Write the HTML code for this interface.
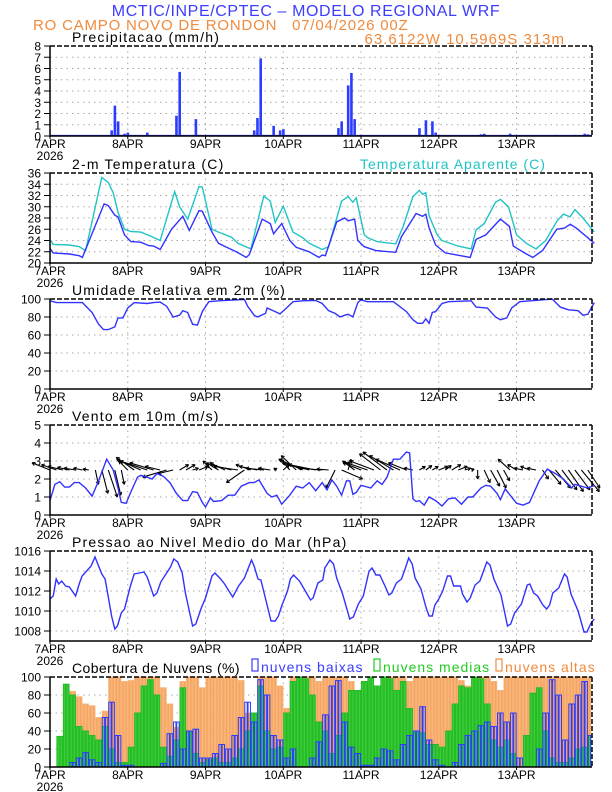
<!DOCTYPE html>
<html><head><meta charset="utf-8"><style>
html,body{margin:0;padding:0;background:#fff;}
svg{display:block;font-family:"Liberation Sans",sans-serif;}
</style></head><body>
<svg id="chart" width="612" height="792" viewBox="0 0 612 792" xmlns="http://www.w3.org/2000/svg">
<text x="306" y="16" text-anchor="middle" font-size="16" letter-spacing="0.6" fill="#3c3cff">MCTIC/INPE/CPTEC – MODELO REGIONAL WRF</text>
<text x="33" y="30" font-size="15" letter-spacing="0.8" fill="#f08a3c" xml:space="preserve">RO CAMPO NOVO DE RONDON   07/04/2026 00Z</text>
<text x="565" y="44" text-anchor="end" font-size="15" letter-spacing="1" fill="#f08a3c">63.6122W 10.5969S 313m</text>
<g id="panels"></g>
</svg>
<script>
// ---------- data ----------
const precipHours=[19,20,21,22,23,24,30,39,40,45,46,63,64,65,66,69,71,72,89,90,92,93,94,114,116,118,119,133,134,142,156,162,165,166];
const precipValues=[0.5,2.7,1.3,0.1,0.2,0.3,0.3,1.8,5.7,1.5,0.1,0.5,1.6,6.9,0.1,0.9,0.5,0.6,0.7,1.3,4.5,5.6,1.5,0.7,1.4,1.3,0.3,0.15,0.2,0.2,0.1,0.1,0.2,0.15];

const tempHours=[0,1,6,9,10,16.7,18,20,21,23,25,28,30.5,32,34,37.5,41,43,46,47,50,52,54.5,57.5,60.6,61.5,65.5,68,69,71.5,74,76,80,83,84,85,88.5,91,92,94,95,97,100.6,106.7,108.5,110.5,113,115,116,117,119,122,129.7,131.5,134.5,139,141.8,143,146.7,149,152,156.4,158.8,160.6,162.4,166,168];
const tempValues=[22.6,21.8,21.6,21.3,21,30.5,30.2,28.5,28.2,25,23.8,23.7,23.1,23,22.4,26,28.3,25.8,29.3,29.2,25.5,23.5,22.8,22,21,21.5,27.8,27,25.2,27,24,22.8,22,21,21.4,21.3,27.3,28,27.5,27.8,24,22.9,22.2,21.9,24.7,26.5,28.8,28.3,28.7,26.2,23.2,21.8,21,24.2,25,27.8,26.5,23,21.7,21,22.2,26,26.2,26.9,26.2,24.5,23.5];
const appHours=[0,1,6,9,11,16,18,19.5,21,23,25,28,31,34,38.5,40,42.5,46,47,50,52,56,58,62,66,68,69.5,72,75,78,80,84,86,90,92,93.5,94.5,97,98,101,106.7,109,112,114,115,116,117,119.5,121,126,130,131.5,134,137.5,139,141.5,144,147,150,153,156.5,158.5,160.5,162,164.5,168];
const appValues=[24.2,23.3,23.2,22.9,22.2,35.2,34.3,32.5,29,26,25.6,25.5,24.8,24,32.7,30,27.8,33.6,33.5,26,25.5,24.6,23.5,22.5,31.9,31,27.2,30.1,25.5,24.5,23.5,22.4,22.9,31,31.8,30.8,31.6,25,24.5,23.8,23.4,26.5,31.8,32.9,32.2,32.5,28.4,25,24,23,22.5,25.9,27,30.8,31.3,30,25,23.5,22.5,24,27.5,28.7,28.2,29.5,28,25.5];

const rhHours=[0,2,10,13,15,16.5,18,20,21,22.5,24,26,30,32,34,36,38,40,41,42.5,44,45.5,47,49,52,60,61,63,64,66.5,67,69.5,71,73,75,78,82,84,86,88,89.5,91,92,93.5,95,96,98,106,110,112,113.5,115,116,117,118,119,121,123,130,131.5,135,137.5,139,141,142.5,145,155,157.5,160,163,164.5,166,168];
const rhValues=[98,96,96,85,72,66,66,69,79,79,90,96,95,96,96.5,92,80,82,87,85,72,71,86,97,98,99.5,92,82,80,84,90,86,83.5,90,97,98,98.5,95,87,84,80,82,83,80,96,99,97,97,86,77,73,73,78,73,85,86,95,97,98,91,90,80,77,79,90,97,100,91,88,87,82,83,96];

const windHours=[0,1.5,3,4.5,6,7.5,9,11,13,15,17.5,19.5,21,22,23.5,25,27,28,30,31.5,33,35,37,39,41,42.5,44,45.5,47,48,49.5,50.5,53,55,57,59,61.5,63,64.5,67,68.5,70,71.5,74,76,78,80,82,84,85.5,87,88.5,90,91.5,92.5,93.5,94.5,96,99,101,102.5,104,106,108,110,111,112,113,114,115.5,117,119,121,123,125,127,129,130.5,133,134.5,136,138,139,140.5,142,144,146,148,151,153.5,156,158.5,161,162,166,168];
const windValues=[0.8,1.7,1.85,1.55,1.55,1.8,1.8,1.5,1.05,1.9,3.1,2.5,1.5,0.7,0.65,1.3,2.1,2.2,2.1,2.0,2.3,2.15,1.8,1.2,0.8,0.8,1.3,1.25,0.7,0.45,0.95,0.75,0.8,1.1,1.1,1.6,1.8,1.8,1.95,1.2,1.0,1.1,0.6,1.1,1.6,1.5,1.8,1.35,1.8,1.4,1.95,1.6,1.1,1.9,1.9,1.15,1.25,1.65,1.5,1.9,1.7,2.1,3.1,3.1,3.5,3.45,0.9,0.75,0.8,0.55,1.0,0.8,0.5,0.9,0.95,0.6,1.0,1.0,1.5,1.65,1.6,1.2,0.85,1.45,1.1,0.65,0.55,0.7,1.9,2.55,2.3,2.0,1.5,1.7,1.5,1.65];

const vecHours=[0,2,4,6,8,10,12,14,16,18,20,22,24,26,28,30,32,34,36,38,40,42,44,46,48,50,52,54,56,58,60,62,64,66,68,70,72,74,76,78,80,82,84,86,88,90,92,94,96,98,100,102,104,106,108,110,112,114,116,118,120,122,124,126,128,130,132,134,136,138,140,142,144,146,148,150,152,154,156,158,160,162,164,166];
const vecU=[-0.6,-0.5,-0.5,-0.4,-0.4,-0.3,-0.2,0.1,0.2,0.3,0.2,0.1,-0.3,-0.6,-0.8,-0.9,-0.8,-0.5,-0.8,-0.5,0.3,0.3,0.2,0.3,0.1,-0.3,-0.4,-0.5,-0.7,-0.8,-0.6,-0.5,-0.6,-0.6,-0.4,-0.1,0.2,-0.3,-0.5,-0.8,-0.9,-0.9,-0.8,-0.4,-0.3,0.7,0.1,-0.4,-0.6,-0.7,-0.8,-0.7,-0.8,-0.8,-0.8,-0.6,-0.3,0.2,0.2,0.2,0.3,0.2,0.3,0.3,0.2,0.1,0,0.2,0.3,0.3,0.2,-0.4,-0.3,-0.3,-0.3,-0.3,0.2,0.4,0.5,0.5,0.5,0.5,0.6,0.4];
const vecV=[0.4,0.3,0.2,0.15,0.1,0.1,0.05,-0.8,-1.3,-1.5,-1.4,-0.8,0.5,0.7,0.6,0.5,0.4,0.2,-0.4,-0.2,0.3,0.3,0.1,0.2,0.3,0.5,0.4,0.4,0.3,0.2,-0.7,0.3,0.2,0.1,0.1,0.1,0.3,0.6,0.8,0.6,0.4,0.3,0.1,0.05,-1.0,-0.5,0.6,0.5,0.4,0.4,0.5,0.9,1.0,0.8,0.6,0.4,0.1,0.2,0.25,0.2,0.2,0.25,0.3,0.2,0.1,0.05,-0.5,-0.7,-0.9,-1.0,-0.6,0.6,0.3,0.1,0.2,0.1,-0.5,-0.8,-1.0,-1.1,-1.2,-1.1,-1.2,-1.0];

const presHours=[0,1,1.9,2.7,3.6,4.8,6,7.9,9.1,9.9,12.7,13.9,16,17,18.2,19,20,20.8,22,23,24.8,26,27.6,29,30,32,33,34.2,36.4,37.2,38.2,39.4,40.8,41.8,44,45,46.7,48,50,50.9,52.7,53.9,56.4,58.2,60,62.2,63,64.2,65.1,66.7,68.2,69.5,70.5,71.5,73.3,74.2,75.2,77,78.8,80.4,81.2,82.7,84.2,84.8,86.4,87.5,88.5,90.3,92.5,93.6,95.2,96.7,98.5,99.4,100.6,101.8,103.4,104.6,105.5,106.9,108.5,109.7,110.7,111.8,112.7,114.5,116.1,117,118,118.8,120,121.2,122.7,123.6,124.6,126.7,127.3,128.7,129.7,131.2,132.7,134.8,135.8,137,139.2,141.2,142.2,143.4,145.5,147.3,148.1,149.3,150.5,152.1,153.3,154.2,155.2,157,158.8,159.6,160.8,163,164.8,165.7,167,168];
const presValues=[1011.2,1011.5,1013.2,1012.7,1013,1012.5,1012.4,1011.5,1012.8,1013.5,1014.5,1015.4,1013.7,1013.2,1011,1009.5,1008.2,1008.5,1009.8,1010.2,1012.5,1013.7,1013.8,1013.9,1013.4,1011.5,1011.8,1012.9,1014,1014.4,1015.2,1014.9,1013.8,1011.8,1008.5,1008.7,1010.3,1011.3,1013.5,1013.8,1013.2,1012.7,1011.4,1012.5,1013.3,1015.1,1014.5,1013.2,1013.1,1011,1009,1009,1009.5,1010.5,1012,1013.2,1013.6,1013,1012,1011.1,1011.3,1012.8,1013.1,1014.3,1015.1,1014.7,1013.3,1011.7,1009.2,1009.4,1010.7,1011.5,1014,1014.3,1013.6,1013.6,1012.5,1011.6,1011.8,1012.8,1013.2,1014.3,1015.3,1014.7,1013.3,1012.2,1010.3,1009.5,1009.5,1010.6,1011.2,1012,1013.5,1013.5,1012.5,1012.5,1011.7,1010.9,1011.3,1012.6,1013,1014.9,1014.6,1013.2,1011.6,1008.5,1008.7,1009.8,1010.7,1012.6,1012.7,1011.8,1011.5,1010.6,1010.2,1010.6,1011.8,1012.3,1013.7,1013.4,1011.7,1010,1007.9,1007.9,1008.8,1009.2];

const cloudHours=vecHours;
const cloudHigh=[0,0,0,84,78,70,68,55,62,100,100,95,96,100,100,100,100,88,70,44,95,100,100,88,100,100,100,100,100,96,60,40,100,100,100,90,65,100,100,100,100,95,100,100,100,100,95,80,75,88,90,80,100,100,100,95,100,100,100,100,100,100,100,96,90,98,100,100,95,85,100,100,100,100,100,100,100,100,100,100,100,100,100,100];
const cloudMid=[0,34,92,80,45,40,35,30,45,20,5,5,22,60,90,97,80,22,12,30,88,40,15,5,8,10,5,5,10,20,40,60,90,40,20,22,60,95,100,98,80,50,40,15,35,60,85,85,95,100,90,100,98,85,95,65,40,38,25,25,22,40,70,90,88,100,98,70,30,22,30,15,0,35,82,88,40,10,5,5,10,20,22,35];
const cloudLow=[0,0,0,5,10,16,8,5,55,72,35,2,2,0,0,0,0,4,37,50,20,40,42,10,10,15,25,20,35,55,72,50,97,80,35,30,10,20,0,0,10,28,58,90,96,50,22,15,2,2,10,20,18,8,25,35,40,67,30,8,2,0,5,25,35,40,46,50,45,60,50,60,10,0,0,20,60,97,80,30,70,80,95,35];

const dayLabels=["7APR","8APR","9APR","10APR","11APR","12APR","13APR"];

// ---------- layout ----------
const X0=50, PX_PER_H=3.24, XR=592, PH=90;
function xs(h){return X0+h*PX_PER_H;}
const NS="http://www.w3.org/2000/svg";
const root=document.getElementById('panels');
function mk(tag,attrs,parent){const e=document.createElementNS(NS,tag);for(const k in attrs)e.setAttribute(k,attrs[k]);(parent||root).appendChild(e);return e;}

function panel(name,top,ymin,ymax,ticks,title,ls){
  const g=mk('g',{});
  
  
  const ys=v=>top+PH-(v-ymin)/(ymax-ymin)*PH;
  ticks.forEach(t=>{ if(t>ymin&&t<ymax){const l=mk('line',{x1:X0,x2:XR,y1:ys(t),y2:ys(t),stroke:'#aaa','stroke-width':1,'stroke-dasharray':'1.5,4'},g);
    
    }});
  for(let d=1;d<7;d++){const l=mk('line',{x1:xs(d*24),x2:xs(d*24),y1:top,y2:top+PH,stroke:'#aaa','stroke-width':1,'stroke-dasharray':'1.5,4'},g);
    
    }
  const tt=mk('text',{x:72,y:top-4,'font-size':14,'letter-spacing':(ls===undefined?1.2:ls),fill:'#000'},g);
  tt.textContent=title;
  
  
  ticks.forEach(t=>{const tx=mk('text',{x:41,y:ys(t)+4.5,'font-size':12,'text-anchor':'end',fill:'#000'},g);tx.textContent=t;
    
    
    mk('line',{x1:44,x2:X0,y1:ys(t),y2:ys(t),stroke:'#000','stroke-width':1},g);});
  dayLabels.forEach((lb,i)=>{const tx=mk('text',{x:xs(i*24),y:top+PH+12,'font-size':12,'text-anchor':'middle',fill:'#000'},g);tx.textContent=lb;
    
    
    mk('line',{x1:xs(i*24),x2:xs(i*24),y1:top+PH,y2:top+PH+3,stroke:'#000','stroke-width':1},g);});
  const yr=mk('text',{x:xs(0),y:top+PH+24,'font-size':12,'text-anchor':'middle',fill:'#000'},g);yr.textContent='2026';
  
  
  return {g,ys,top,finish(){
    mk('line',{x1:X0,x2:XR,y1:top,y2:top,stroke:'#000','stroke-width':1.5,'stroke-dasharray':'5,2'},g);
    mk('line',{x1:XR,x2:XR,y1:top,y2:top+PH,stroke:'#000','stroke-width':1.5,'stroke-dasharray':'5,2'},g);
    mk('line',{x1:X0,x2:X0,y1:top,y2:top+PH+1,stroke:'#000','stroke-width':1.5},g);
    mk('line',{x1:X0,x2:XR,y1:top+PH,y2:top+PH,stroke:'#000','stroke-width':1.5},g);
  }};
}
function line(p,hs,vs,color,name){
  const d=hs.map((h,i)=>(i?'L':'M')+xs(h).toFixed(1)+','+p.ys(vs[i]).toFixed(1)).join('');
  const e=mk('path',{d,fill:'none',stroke:color,'stroke-width':1.4},p.g);
  
  
}

// precip
let p=panel('precip',46,0,8,[0,1,2,3,4,5,6,7,8],'Precipitacao (mm/h)');
mk('line',{x1:X0,x2:XR,y1:p.ys(0)-0.5,y2:p.ys(0)-0.5,stroke:'#3232ff','stroke-width':1.2},p.g);
precipHours.forEach((h,i)=>{const y=p.ys(precipValues[i]);const r=mk('rect',{x:xs(h)-1.2,y,width:2.6,height:p.ys(0)-y,fill:'#2a3cff'},p.g);
  
  });
p.finish();

// temperature
p=panel('temperature',173,20,36,[20,22,24,26,28,30,32,34,36],'2-m Temperatura (C)');
line(p,appHours,appValues,'#20c4c4','apparent-temperature-line');
line(p,tempHours,tempValues,'#3232ff','temperature-line');
let lg=mk('text',{x:360,y:169,'font-size':14,'letter-spacing':1,fill:'#20c4c4'},p.g);lg.textContent='Temperatura Aparente (C)';


p.finish();

// RH
p=panel('humidity',299,0,100,[0,20,40,60,80,100],'Umidade Relativa em 2m (%)');
line(p,rhHours,rhValues,'#3232ff','humidity-line');
p.finish();

// wind
p=panel('wind',425,0,5,[0,1,2,3,4,5],'Vento em 10m (m/s)');
vecHours.forEach((h,i)=>{
  const x1=xs(h),y1=p.ys(2.5),x2=x1+vecU[i]*30,y2=p.ys(2.5+vecV[i]);
  const a=mk('line',{x1,y1,x2,y2,stroke:'#000','stroke-width':1.1},p.g);
  
  
  const ang=Math.atan2(y2-y1,x2-x1),L=3.5;
  mk('path',{d:`M${x2},${y2}L${x2-L*Math.cos(ang-0.5)},${y2-L*Math.sin(ang-0.5)}M${x2},${y2}L${x2-L*Math.cos(ang+0.5)},${y2-L*Math.sin(ang+0.5)}`,stroke:'#000','stroke-width':1,fill:'none'},p.g);
});
line(p,windHours,windValues,'#3232ff','wind-speed-line');
p.finish();

// pressure
p=panel('pressure',551,1007,1016,[1008,1010,1012,1014,1016],'Pressao ao Nivel Medio do Mar (hPa)');
line(p,presHours,presValues,'#3232ff','pressure-line');
p.finish();

// clouds
p=panel('clouds',677,0,100,[0,20,40,60,80,100],'Cobertura de Nuvens (%)',0.4);
function cloudBars(vals,fill,stroke,name){
  cloudHours.forEach((h,i)=>{for(let k=0;k<2;k++){const hh=h+k;if(xs(hh)+2>XR)continue;const y=p.ys(vals[i]);
    const r=mk('rect',{x:xs(hh)+0.4,y,width:2.4,height:Math.max(0,p.ys(0)-y),fill,stroke,'stroke-width':1},p.g);
    
    }});
}
cloudBars(cloudHigh,'#f6a560','#f8b47a','high-cloud-bar');
cloudBars(cloudMid,'#3ccc3c','#22bb22','mid-cloud-bar');
cloudBars(cloudLow,'none','#2a3cff','low-cloud-bar');
const leg=[['nuvens baixas','#3c3cff',252],['nuvens medias','#22cc22',374],['nuvens altas','#f08a3c',496]];
leg.forEach(l=>{const b=mk('rect',{x:l[2],y:659,width:6,height:12,fill:'none',stroke:l[1],'stroke-width':1.2},p.g);
  
  
  const t=mk('text',{x:l[2]+9,y:672,'font-size':14,'letter-spacing':1,fill:l[1]},p.g);t.textContent=l[0];
  
  });
p.finish();
</script>
</body></html>
